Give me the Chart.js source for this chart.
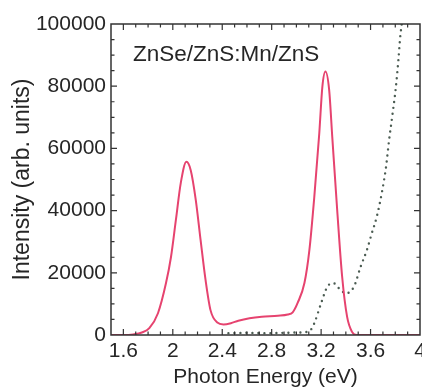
<!DOCTYPE html>
<html>
<head>
<meta charset="utf-8">
<script src="https://cdn.jsdelivr.net/npm/chart.js@4.4.1/dist/chart.umd.min.js"></script>
<style>
  html, body { margin: 0; padding: 0; background: #fff; }
  #wrap { width: 422px; height: 388px; position: relative; }
</style>
</head>
<body>
<div id="wrap"><canvas id="chart"></canvas></div>
<script>
// PL spectrum (red) and absorption-like dotted curve
const redEnergy = [1.50, 1.60, 1.68, 1.75, 1.81, 1.88, 1.945, 1.985, 2.025, 2.065, 2.11, 2.145, 2.186, 2.225, 2.265, 2.305, 2.36, 2.41, 2.47, 2.53, 2.62, 2.72, 2.85, 2.93, 2.97, 3.01, 3.065, 3.105, 3.145, 3.185, 3.21, 3.235, 3.265, 3.29, 3.33, 3.37, 3.41, 3.45, 3.49, 3.70, 4.00];
const redIntensity = [0, 0, 200, 800, 2200, 7000, 16700, 25000, 37000, 49000, 55700, 53000, 43400, 30500, 17700, 8000, 4000, 3400, 3800, 4600, 5400, 5900, 6200, 6600, 7300, 10300, 16700, 27300, 44500, 64800, 79800, 84700, 78800, 63800, 40200, 18800, 5900, 1000, 0, 0, 0];

const dotEnergy = [2.45, 2.60, 2.75, 2.90, 3.00, 3.07, 3.115, 3.145, 3.20, 3.25, 3.30, 3.345, 3.40, 3.465, 3.52, 3.57, 3.61, 3.65, 3.69, 3.725, 3.75, 3.775, 3.805, 3.825, 3.84, 3.855, 3.875];
const dotIntensity = [600, 700, 600, 700, 800, 900, 1600, 3800, 10200, 15500, 16700, 15000, 13400, 15500, 22000, 27300, 32700, 38000, 45500, 54000, 62700, 70200, 79800, 88400, 95900, 101000, 110000];

const xTicks = [1.6, 2.0, 2.4, 2.8, 3.2, 3.6, 4.0];
const xTickLabels = ['1.6', '2', '2.4', '2.8', '3.2', '3.6', '4'];
const yTicks = [0, 20000, 40000, 60000, 80000, 100000];
const yTickLabels = ['0', '20000', '40000', '60000', '80000', '100000'];

const sampleLabel = 'ZnSe/ZnS:Mn/ZnS';

const textColor = '#262626';
const fontFamily = '"Liberation Sans", Arial, Helvetica, sans-serif';

// frame with inward ticks on all four sides, plus the sample label
const framePlugin = {
  id: 'frame',
  afterDraw(chart) {
    const { ctx, chartArea: a, scales } = chart;
    const xs = scales.x, ys = scales.y;
    ctx.save();
    ctx.strokeStyle = '#333';
    ctx.lineWidth = 1.5;
    ctx.strokeRect(a.left, a.top, a.right - a.left, a.bottom - a.top);
    ctx.lineWidth = 1.2;
    ctx.beginPath();
    for (let i = 15; i <= 40; i++) {
      const v = i / 10;
      const px = xs.getPixelForValue(v);
      if (px < a.left + 1 || px > a.right - 1) continue;
      const len = (i % 4 === 0) ? 6 : 3.5;
      ctx.moveTo(px, a.bottom); ctx.lineTo(px, a.bottom - len);
      ctx.moveTo(px, a.top); ctx.lineTo(px, a.top + len);
    }
    for (let v = 5000; v < 100000; v += 5000) {
      const py = ys.getPixelForValue(v);
      const len = (v % 20000 === 0) ? 6 : 3.5;
      ctx.moveTo(a.left, py); ctx.lineTo(a.left + len, py);
      ctx.moveTo(a.right, py); ctx.lineTo(a.right - len, py);
    }
    ctx.stroke();

    ctx.fillStyle = textColor;
    ctx.font = '22.5px ' + fontFamily;
    ctx.textAlign = 'left';
    ctx.textBaseline = 'middle';
    ctx.fillText(sampleLabel, a.left + 22, a.top + 31);
    ctx.restore();
  }
};

new Chart(document.getElementById('chart'), {
  type: 'line',
  data: {
    datasets: [
      {
        label: 'PL',
        data: redEnergy.map((e, i) => ({ x: e, y: redIntensity[i] })),
        borderColor: '#e6436f',
        borderWidth: 2,
        pointRadius: 0,
        cubicInterpolationMode: 'monotone',
        fill: false
      },
      {
        label: 'dotted',
        data: dotEnergy.map((e, i) => ({ x: e, y: dotIntensity[i] })),
        borderColor: '#4b5c52',
        borderWidth: 2.4,
        borderDash: [0, 6],
        borderCapStyle: 'round',
        pointRadius: 0,
        cubicInterpolationMode: 'monotone',
        fill: false
      }
    ]
  },
  options: {
    responsive: true,
    maintainAspectRatio: false,
    animation: false,
    layout: { padding: { left: 0, top: 24, right: 2, bottom: 0 } },
    plugins: {
      legend: { display: false },
      tooltip: { enabled: false }
    },
    scales: {
      x: {
        type: 'linear',
        min: 1.5,
        max: 4.0,
        grid: { display: false, drawTicks: false },
        border: { display: false },
        afterBuildTicks: s => { s.ticks = xTicks.map(v => ({ value: v })); },
        afterFit: s => { s.height = 53; s.paddingLeft = 0; s.paddingRight = 0; },
        ticks: {
          autoSkip: false,
          maxRotation: 0,
          padding: 4,
          color: textColor,
          font: { family: fontFamily, size: 21 },
          callback: (v, i) => xTickLabels[i]
        },
        title: {
          display: true,
          text: 'Photon Energy (eV)',
          color: textColor,
          padding: 0,
          font: { family: fontFamily, size: 21, lineHeight: 1 }
        }
      },
      y: {
        min: 0,
        max: 100000,
        grid: { display: false, drawTicks: false },
        border: { display: false },
        afterBuildTicks: s => { s.ticks = yTicks.map(v => ({ value: v })); },
        afterFit: s => { s.width = 111; s.paddingTop = 0; s.paddingBottom = 0; },
        ticks: {
          padding: 5,
          color: textColor,
          font: { family: fontFamily, size: 21 },
          callback: (v, i) => yTickLabels[i]
        },
        title: {
          display: true,
          text: 'Intensity (arb. units)',
          color: textColor,
          padding: 11,
          font: { family: fontFamily, size: 23, lineHeight: 1 }
        }
      }
    }
  },
  plugins: [framePlugin]
});
</script>
</body>
</html>
